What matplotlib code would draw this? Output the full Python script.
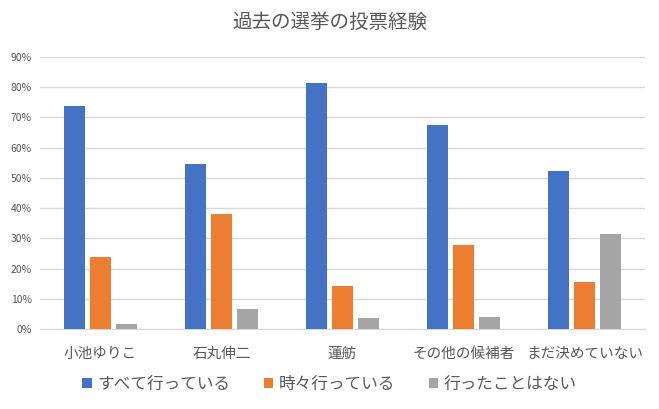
import numpy as np
import matplotlib.pyplot as plt
from matplotlib.ticker import FuncFormatter

plt.rcParams['font.family'] = ['Noto Sans CJK JP', 'DejaVu Sans']

categories = ['小池ゆりこ', '石丸伸二', '蓮舫', 'その他の候補者', 'まだ決めていない']
series_names = ['すべて行っている', '時々行っている', '行ったことはない']
always = [73.9, 54.7, 81.5, 67.6, 52.4]
sometimes = [23.9, 38.1, 14.3, 27.9, 15.7]
never = [1.8, 6.7, 3.7, 4.1, 31.5]
colors = ['#4472C4', '#ED7D31', '#A5A5A5']

fig = plt.figure(figsize=(6.59, 4.09), dpi=100)
ax = fig.add_axes([40 / 659, 80 / 409, 605 / 659, 272 / 409])

x = np.arange(len(categories))
w = 0.174
step = 0.215
for i, (vals, name) in enumerate(zip([always, sometimes, never], series_names)):
    ax.bar(x + (i - 1) * step, np.array(vals) / 100, w, color=colors[i], label=name, zorder=3)

ax.set_xlim(-0.5, len(categories) - 0.5)
ax.set_ylim(0, 0.9)
ax.set_yticks(np.arange(0, 0.91, 0.1))
ax.yaxis.set_major_formatter(FuncFormatter(lambda v, p: f'{v * 100:.0f}%'))
ax.grid(axis='y', color='#D9D9D9', linewidth=1, zorder=0)
for s in ['top', 'right', 'left']:
    ax.spines[s].set_visible(False)
ax.spines['bottom'].set_color('#D9D9D9')
ax.tick_params(axis='both', length=0, colors='#595959')
ax.tick_params(axis='y', labelsize=7.5, pad=6)
ax.tick_params(axis='x', labelsize=10.5, pad=13)
ax.set_xticks(x)
ax.set_xticklabels(categories)

fig.text(0.5, 0.945, '過去の選挙の投票経験', ha='center', va='center', fontsize=14, color='#595959')

fig.legend(loc='center', bbox_to_anchor=(0.5, 0.06), ncol=3, frameon=False, fontsize=12,
           handlelength=0.55, handleheight=0.55, handletextpad=0.35, columnspacing=2.0,
           labelcolor='#595959')

fig.savefig('out.png', dpi=100)
